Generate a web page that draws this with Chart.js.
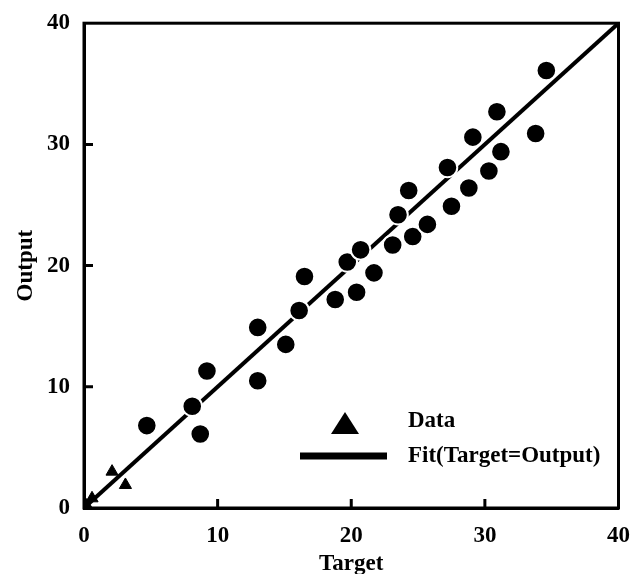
<!DOCTYPE html>
<html>
<head>
<meta charset="utf-8">
<script src="https://cdn.jsdelivr.net/npm/chart.js@4"></script>
<style>
  html, body { margin: 0; padding: 0; background: #fff; }
  #wrap { width: 644px; height: 574px; }
</style>
</head>
<body>
<div id="wrap"><canvas id="fitChart" width="644" height="574"></canvas></div>
<script>
  // values
  const dotTarget = [4.7, 8.1, 8.7, 9.2, 13.0, 13.0, 15.1, 16.1, 16.5, 18.8, 19.7, 20.4, 20.7, 21.7,
    23.1, 23.5, 24.3, 24.6, 25.7, 27.2, 27.5, 28.8, 29.1, 30.3, 30.9, 31.2, 33.8, 34.6];
  const dotOutput = [6.8, 8.4, 6.1, 11.3, 10.5, 14.9, 13.5, 16.3, 19.1, 17.2, 20.3, 17.8, 21.3, 19.4,
    21.7, 24.2, 26.2, 22.4, 23.4, 28.1, 24.9, 26.4, 30.6, 27.8, 32.7, 29.4, 30.9, 36.1];
  const triTarget = [2.1, 3.1, 0.6, 0.2];
  const triOutput = [3.0, 1.9, 0.8, 0.2];
  const fitTarget = [0, 40];
  const fitOutput = [0, 40];
  const tickValues = [0, 10, 20, 30, 40];

  const FONT = "'Liberation Serif', 'Times New Roman', serif";
  const pts = (xs, ys) => xs.map((x, i) => ({ x: x, y: ys[i] }));

  // frame, inward ticks and the in-plot legend
  const framePlugin = {
    id: 'frame',
    afterDatasetsDraw(chart) {
      const { ctx, chartArea: a, scales } = chart;
      ctx.save();
      ctx.strokeStyle = '#000';
      ctx.lineWidth = 3;
      ctx.strokeRect(a.left, a.top, a.right - a.left, a.bottom - a.top);

      ctx.beginPath();
      tickValues.slice(1, -1).forEach(v => {
        const x = scales.x.getPixelForValue(v);
        ctx.moveTo(x, a.bottom);
        ctx.lineTo(x, a.bottom - 9);
        const y = scales.y.getPixelForValue(v);
        ctx.moveTo(a.left, y);
        ctx.lineTo(a.left + 9, y);
      });
      ctx.stroke();

      // legend, placed from the bottom-left of the plot
      const lx = a.left + 261;
      const ly = a.bottom - 84;
      ctx.fillStyle = '#000';
      ctx.beginPath();
      ctx.moveTo(lx, ly - 12);
      ctx.lineTo(lx + 14, ly + 10);
      ctx.lineTo(lx - 14, ly + 10);
      ctx.closePath();
      ctx.fill();

      ctx.lineWidth = 7;
      ctx.beginPath();
      ctx.moveTo(a.left + 216, ly + 32);
      ctx.lineTo(a.left + 303, ly + 32);
      ctx.stroke();

      ctx.font = 'bold 23px ' + FONT;
      ctx.textBaseline = 'middle';
      ctx.textAlign = 'left';
      ctx.fillText('Data', a.left + 324, ly - 3);
      ctx.fillText('Fit(Target=Output)', a.left + 324, ly + 32);
      ctx.restore();
    }
  };

  new Chart(document.getElementById('fitChart'), {
    type: 'scatter',
    data: {
      datasets: [
        {
          label: 'Data',
          data: pts(dotTarget, dotOutput),
          pointStyle: 'circle',
          pointRadius: 9.8,
          backgroundColor: '#000',
          borderColor: '#fff',
          borderWidth: 2,
          order: 1
        },
        {
          label: 'Data',
          data: pts(triTarget, triOutput),
          pointStyle: 'triangle',
          pointRadius: 7,
          backgroundColor: '#000',
          borderColor: '#000',
          borderWidth: 1,
          order: 1
        },
        {
          type: 'line',
          label: 'Fit(Target=Output)',
          data: pts(fitTarget, fitOutput),
          borderColor: '#000',
          borderWidth: 4,
          pointRadius: 0,
          fill: false,
          order: 2
        }
      ]
    },
    options: {
      responsive: false,
      animation: false,
      layout: { padding: { left: 12, right: 24, top: 22, bottom: 0 } },
      plugins: {
        legend: { display: false },
        tooltip: { enabled: false }
      },
      scales: {
        x: {
          type: 'linear',
          min: 0,
          max: 40,
          afterFit: s => { s.height = 66; },
          afterBuildTicks: s => { s.ticks = tickValues.map(v => ({ value: v })); },
          grid: { display: false, drawTicks: false },
          border: { display: true, color: '#000', width: 3 },
          ticks: { color: '#000', padding: 14, maxRotation: 0, font: { family: FONT, size: 23, weight: 'bold' } },
          title: { display: true, text: 'Target', color: '#000', padding: { top: 0, bottom: -4 }, font: { family: FONT, size: 23, weight: 'bold' } }
        },
        y: {
          type: 'linear',
          min: 0,
          max: 40,
          afterFit: s => { s.width = 72; },
          afterBuildTicks: s => { s.ticks = tickValues.map(v => ({ value: v })); },
          grid: { display: false, drawTicks: false },
          border: { display: true, color: '#000', width: 3 },
          ticks: { color: '#000', padding: 14, font: { family: FONT, size: 23, weight: 'bold', lineHeight: 0.8 } },
          title: { display: true, text: 'Output', color: '#000', padding: { top: 0, bottom: 0 }, font: { family: FONT, size: 23, weight: 'bold' } }
        }
      }
    },
    plugins: [framePlugin]
  });
</script>
</body>
</html>
